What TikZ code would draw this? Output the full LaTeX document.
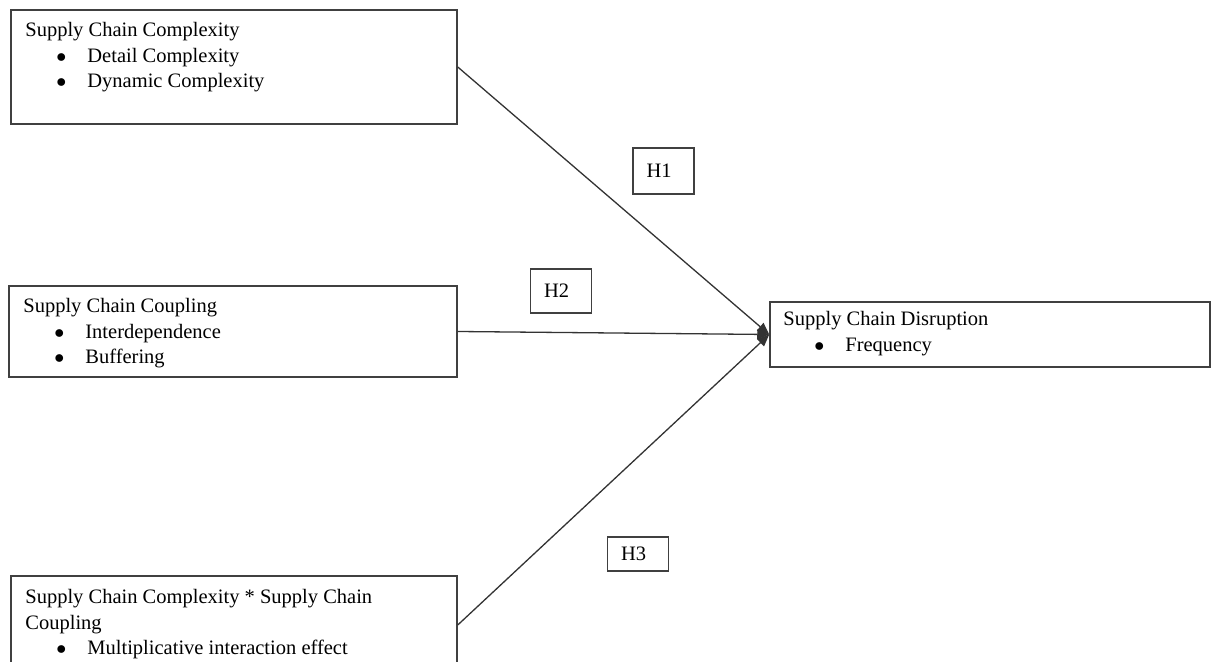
\documentclass[tikz,border=0pt]{standalone}
\usepackage{fontspec}
\setmainfont{Liberation Serif}
\usetikzlibrary{arrows.meta}

\newcommand{\bul}{\hspace*{15.5pt}\makebox[15.5pt][l]{$\bullet$}}

\begin{document}
\begin{tikzpicture}[
  x=0.5pt, y=-0.5pt,
  box/.style={draw=black!75, line width=0.75pt, inner sep=0pt},
  txt/.style={anchor=north west, inner sep=0pt, align=left, font=\fontsize{10.25pt}{12.75pt}\selectfont},
  hyp/.style={draw=black!75, line width=0.75pt, inner xsep=6.75pt, inner ysep=0pt, text width=17pt, align=left, font=\fontsize{10.25pt}{12.75pt}\selectfont},
  link/.style={draw=black!80, line width=0.65pt, -{Triangle[length=6pt,width=5pt]}}
]
  \useasboundingbox (0,0) rectangle (1212,662);

  % boxes
  \node[box, minimum width=223pt, minimum height=57pt]   (cx)  at (234,67)    {};
  \node[box, minimum width=224pt, minimum height=45.5pt] (cp)  at (233,331.5) {};
  \node[box, minimum width=223pt, minimum height=49pt]   (ia)  at (234,625)   {};
  \node[box, minimum width=220pt, minimum height=32.5pt] (dis) at (990,334.5) {};

  % box texts
  \node[txt] (cx-t)  at (25,22)   {Supply Chain Complexity\\\bul Detail Complexity\\\bul Dynamic Complexity};
  \node[txt] (cp-t)  at (23,298)  {Supply Chain Coupling\\\bul Interdependence\\\bul Buffering};
  \node[txt] (ia-t)  at (25,589)  {Supply Chain Complexity * Supply Chain\\Coupling\\\bul Multiplicative interaction effect};
  \node[txt] (dis-t) at (783,311) {Supply Chain Disruption\\\bul Frequency};

  % hypotheses
  \node[hyp, minimum height=23pt] (h1) at (663.5,171) {H1};
  \node[hyp, minimum height=22pt] (h2) at (561,291)   {H2};
  \node[hyp, minimum height=17pt] (h3) at (638,554)   {H3};

  \draw[link] (cx.east) -- (dis.west);
  \draw[link] (cp.east) -- (dis.west);
  \draw[link] (ia.east) -- (dis.west);
\end{tikzpicture}
\end{document}
